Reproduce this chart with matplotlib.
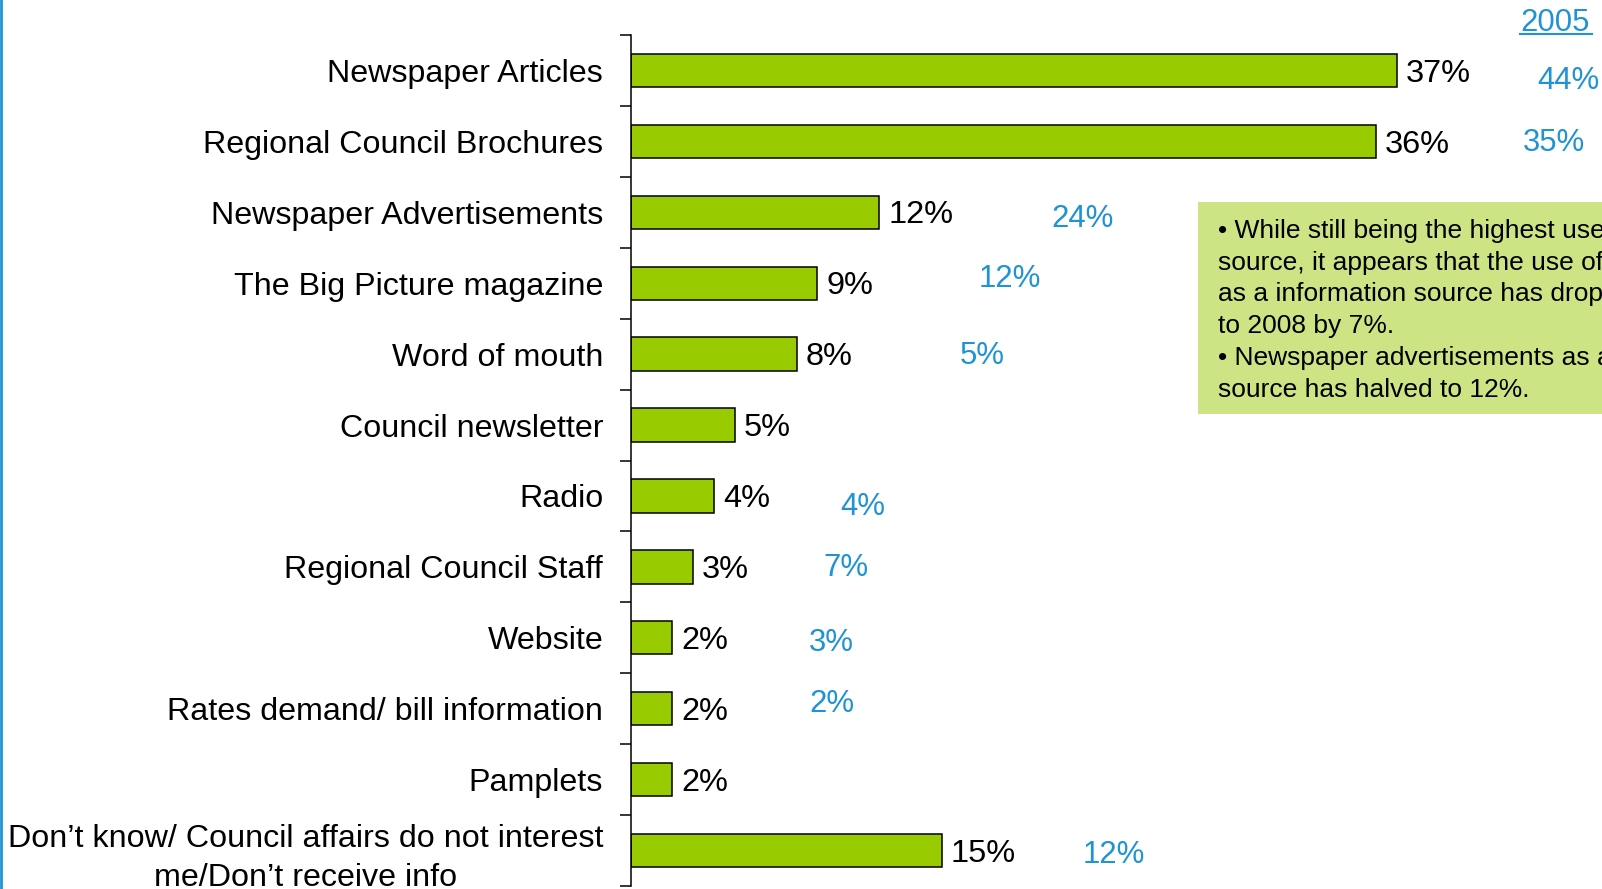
import matplotlib
matplotlib.use('Agg')
import matplotlib.pyplot as plt
import numpy as np
from matplotlib.patches import Rectangle
from matplotlib.lines import Line2D

plt.rcParams['font.family'] = ['Liberation Sans', 'DejaVu Sans']

# ---- data ----
categories = [
    "Newspaper Articles",
    "Regional Council Brochures",
    "Newspaper Advertisements",
    "The Big Picture magazine",
    "Word of mouth",
    "Council newsletter",
    "Radio",
    "Regional Council Staff",
    "Website",
    "Rates demand/ bill information",
    "Pamplets",
    "Don\u2019t know/ Council affairs do not interest\nme/Don\u2019t receive info",
]
values_2008 = [37, 36, 12, 9, 8, 5, 4, 3, 2, 2, 2, 15]
values_2005 = [44, 35, 24, 12, 5, None, 4, 7, 3, 2, None, 12]
header_2005 = "2005"
note_lines = [
    "\u2022 While still being the highest used",
    "source, it appears that the use of",
    "as a information source has dropped",
    "to 2008 by 7%.",
    "\u2022 Newspaper advertisements as a",
    "source has halved to 12%.",
]

# ---- layout / style ----
W, H = 1602, 889
BLUE = '#1f93d3'
GREEN = '#99cc00'
BOX = '#cde485'
px_per_unit = 20.7
axis_x = 631
# 2005 label placement (x in data units, y shift in category units)
pos_2005_x = [43.8, 43.1, 20.3, 16.8, 15.9, None, 10.1, 9.3, 8.6, 8.6, None, 21.8]
pos_2005_dy = [0.15, 0.02, 0.09, -0.06, 0.02, None, 0.15, 0.02, 0.08, -0.06, None, 0.06]

fig = plt.figure(figsize=(W / 100, H / 100), dpi=100)
ax = fig.add_axes([axis_x / W, 3 / H, 1 - axis_x / W, (886 - 35) / H])
ax.patch.set_visible(False)

y = np.arange(len(categories))
ax.barh(y, values_2008, height=0.47, color=GREEN, edgecolor='black', linewidth=1.1)
ax.set_xlim(0, (W - axis_x) / px_per_unit)
ax.set_ylim(len(categories) - 0.5, -0.5)

for s in ['top', 'right', 'bottom']:
    ax.spines[s].set_visible(False)
ax.spines['left'].set_linewidth(1.1)
ax.set_xticks([])
ax.set_yticks(np.arange(len(categories) + 1) - 0.5)
ax.set_yticklabels([])
ax.tick_params(axis='y', which='major', length=8, width=1.1, direction='out')
ax.set_yticks(y, minor=True)
ax.set_yticklabels(categories, minor=True, fontsize=23.2)
ax.tick_params(axis='y', which='minor', length=0, pad=20)
for lbl in ax.get_yticklabels(minor=True):
    lbl.set_multialignment('center')
    lbl.set_linespacing(1.39)

for i, v in enumerate(values_2008):
    ax.annotate(f"{v}%", (v, i), xytext=(6.5, -2.3), textcoords='offset points',
                va='center', ha='left', fontsize=23.4)

for i, v in enumerate(values_2005):
    if v is None:
        continue
    ax.text(pos_2005_x[i], i + pos_2005_dy[i], f"{v}%", color=BLUE, fontsize=22.4,
            va='center', ha='left', clip_on=False)

# header "2005" underlined
fig.text(1520 / W, 1 - 23 / H, header_2005, color=BLUE, fontsize=22.4, va='center', ha='left')
fig.add_artist(Line2D([1520 / W, 1592 / W], [1 - 34 / H] * 2, lw=1.5, color=BLUE))

# commentary box
fig.add_artist(Rectangle((1198 / W, 1 - 414 / H), 1.0, 212 / H, transform=fig.transFigure,
                         facecolor=BOX, edgecolor='none', zorder=1))
for k, line in enumerate(note_lines):
    fig.text(1218 / W, 1 - (238 + 31.7 * k) / H, line, fontsize=19, va='baseline', ha='left',
             zorder=3)

# left blue border
fig.add_artist(Line2D([1 / W, 1 / W], [0, 1], lw=2, color=BLUE))

fig.savefig('out.png', dpi=100)
